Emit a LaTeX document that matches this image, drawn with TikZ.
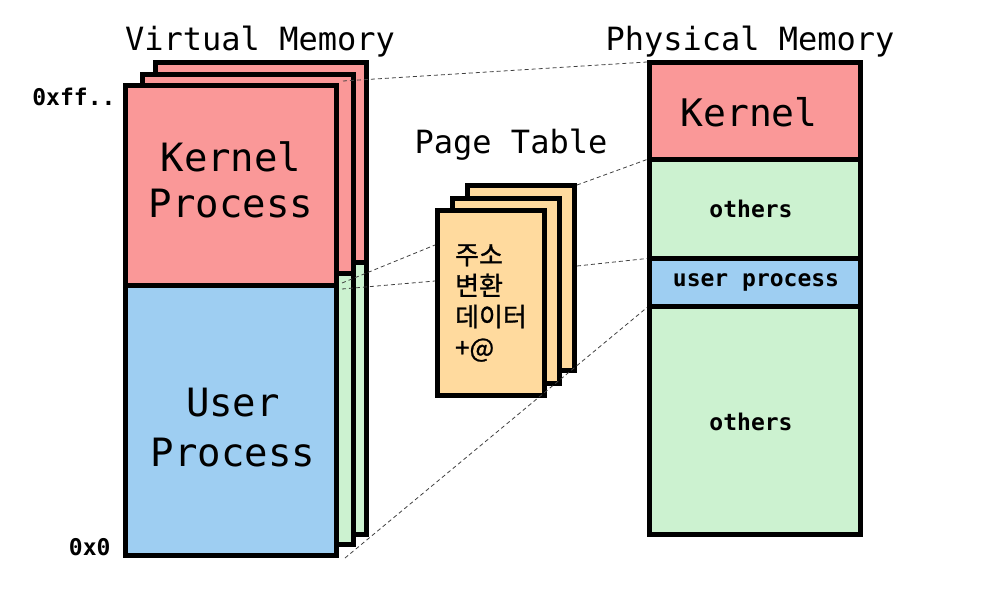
\documentclass[tikz,border=0pt]{standalone}
\usepackage{fontspec}
\setmonofont{DejaVu Sans Mono}
\newfontfamily\kofont[FakeBold=1]{Noto Sans CJK KR}
\usetikzlibrary{calc}
\definecolor{kernred}{RGB}{250,152,152}
\definecolor{userblue}{RGB}{158,206,242}
\definecolor{othgreen}{RGB}{204,242,208}
\definecolor{tblorange}{RGB}{255,218,158}
\tikzset{
  sheet/.style={draw, line width=5pt, anchor=north west, inner sep=0pt,
    minimum width=211pt},
  tsheet/.style={sheet, fill=tblorange, minimum width=107pt, minimum height=185pt},
  map/.style={black!75, line width=0.8pt, dash pattern=on 4pt off 3pt},
  ttl/.style={font=\ttfamily\fontsize{32}{32}\selectfont},
  big/.style={font=\ttfamily\fontsize{39}{46}\selectfont, align=center},
  small/.style={font=\ttfamily\bfseries\fontsize{23}{23}\selectfont}
}
\begin{document}
\begin{tikzpicture}[x=1pt,y=-1pt]
\useasboundingbox (0,0) rectangle (1000,600);
% virtual memory (three sheets)
\node[sheet, fill=kernred, minimum height=199.5pt] (vk1) at (153,60) {};
\node[sheet, fill=othgreen, minimum height=272.5pt] (vu1) at (153,259.5) {};
\node[sheet, fill=kernred, minimum height=198.5pt] (vk2) at (140,72) {};
\node[sheet, fill=othgreen, minimum height=271.5pt] (vu2) at (140,270.5) {};
\node[sheet, fill=kernred, minimum height=199.5pt] (vk3) at (123,83) {};
\node[sheet, fill=userblue, minimum height=270.5pt] (vu3) at (123,282.5) {};
\node[big] (vktxt) at (231,180) {Kernel\\Process};
\node[big, font=\ttfamily\fontsize{39}{50}\selectfont] (vutxt) at (233,428) {User\\Process};
\node[ttl] (vtitle) at (260,42) {Virtual Memory};
\node[small, anchor=east] (hi) at (119,97) {0xff..};
\node[small, anchor=east] (lo) at (114,547) {0x0};
% page table
\node[tsheet] (pt1) at (465,183) {};
\node[tsheet] (pt2) at (450,195.5) {};
\node[tsheet, align=left, font=\kofont\fontsize{26}{31}\selectfont] (pt3) at (435,208) {주소\\변환\\데이터\\+@};
\node[ttl] (ptitle) at (511,145) {Page Table};
% physical memory
\node[sheet, fill=kernred, minimum height=96.5pt] (pk) at (647,60) {};
\node[sheet, fill=othgreen, minimum height=99pt] (po1) at (647,156.5) {};
\node[sheet, fill=userblue, minimum height=48pt] (pu) at (647,255.5) {};
\node[sheet, fill=othgreen, minimum height=228.5pt] (po2) at (647,303.5) {};
\node[font=\ttfamily\fontsize{38}{38}\selectfont] (pktxt) at (749,112) {Kernel};
\node[small] (po1txt) at (751,209) {others};
\node[small] (putxt) at (756,282) {user process};
\node[small] (po2txt) at (751,422) {others};
\node[ttl] (mtitle) at (750,42) {Physical Memory};
% mappings
\draw[map] ([shift={(4pt,2pt)}]vk3.north east) -- ([yshift=-2pt]pk.north west);
\draw[map] ([shift={(3pt,4.5pt)}]vk3.south east) -- ([yshift=-37pt]pt3.north west);
\draw[map] ([shift={(3pt,-1.5pt)}]vk3.south east) -- ([yshift=-73pt]pt3.north west);
\draw[map] ([yshift=-2pt]pt1.north east) -- ([yshift=-3pt]po1.north west);
\draw[map] ([yshift=-83pt]pt1.north east) -- ([yshift=-3pt]pu.north west);
\draw[map] ([xshift=6pt]vu3.south east) -- ([yshift=-4pt]po2.north west);
\end{tikzpicture}
\end{document}
